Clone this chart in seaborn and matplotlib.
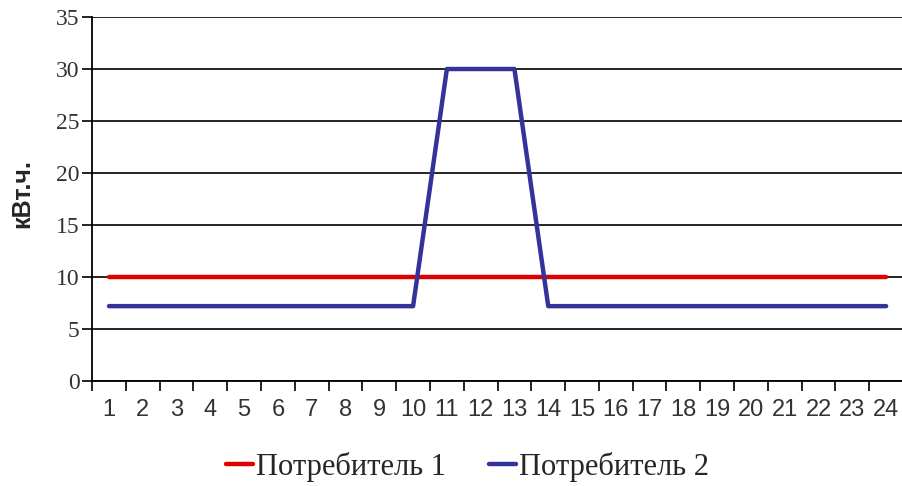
import matplotlib
matplotlib.use("Agg")
import matplotlib.pyplot as plt
import seaborn as sns
import pandas as pd
import numpy as np
from matplotlib.ticker import FixedLocator

hours = list(range(1, 25))
consumer1 = [10] * 24
consumer2 = [7.2] * 10 + [30, 30, 30] + [7.2] * 11
series_names = ["Потребитель 1", "Потребитель 2"]
colors = ["#e00000", "#333399"]
y_label = "кВт.ч."

df = pd.DataFrame({
    "hour": hours * 2,
    "value": consumer1 + consumer2,
    "series": [series_names[0]] * 24 + [series_names[1]] * 24,
})

sns.set_theme(style="white")
plt.rcParams['font.family'] = ['Liberation Serif', 'DejaVu Serif']

fig = plt.figure(figsize=(9.03, 4.86), dpi=100)
ax = fig.add_axes([0.102, 0.216, 0.898, 0.749])

sns.lineplot(data=df, x="hour", y="value", hue="series", palette=colors,
             linewidth=3.2, ax=ax, legend=True)

ax.set_xlim(0.5, 24.5)
ax.set_ylim(0, 35)
ax.set_yticks(np.arange(0, 36, 5))
ax.yaxis.grid(True, color="black", linewidth=1.2)
ax.set_axisbelow(True)

ax.set_xticks(hours)
ax.set_xticklabels([str(h) for h in hours], family=["Liberation Sans"], fontsize=17)
ax.xaxis.set_minor_locator(FixedLocator(np.arange(0.5, 25, 1)))
ax.tick_params(axis="x", which="major", bottom=True, length=0, pad=13)
ax.tick_params(axis="x", which="minor", bottom=True, length=7, width=1.2, color="black", direction="out")
ax.tick_params(axis="y", which="major", left=True, length=7, width=1.2, color="black", direction="out",
               labelsize=17, pad=2)
for lbl in ax.get_yticklabels():
    lbl.set_color("#333333")
for lbl in ax.get_xticklabels():
    lbl.set_color("#333333")

for s in ["top", "right"]:
    ax.spines[s].set_visible(False)
for s in ["left", "bottom"]:
    ax.spines[s].set_color("black")
    ax.spines[s].set_linewidth(1.3)

ax.set_xlabel("")
ax.set_ylabel(y_label, family=["Liberation Sans"], fontweight="bold", fontsize=18)
ax.yaxis.set_label_coords(-0.071, 0.515)

handles, labels = ax.get_legend_handles_labels()
ax.legend(handles, labels, loc="center", bbox_to_anchor=(0.463, -0.235), ncol=2, frameon=False,
          fontsize=22, handlelength=0.9, handletextpad=0.1, columnspacing=1.4)

fig.savefig("out.png", dpi=100)
